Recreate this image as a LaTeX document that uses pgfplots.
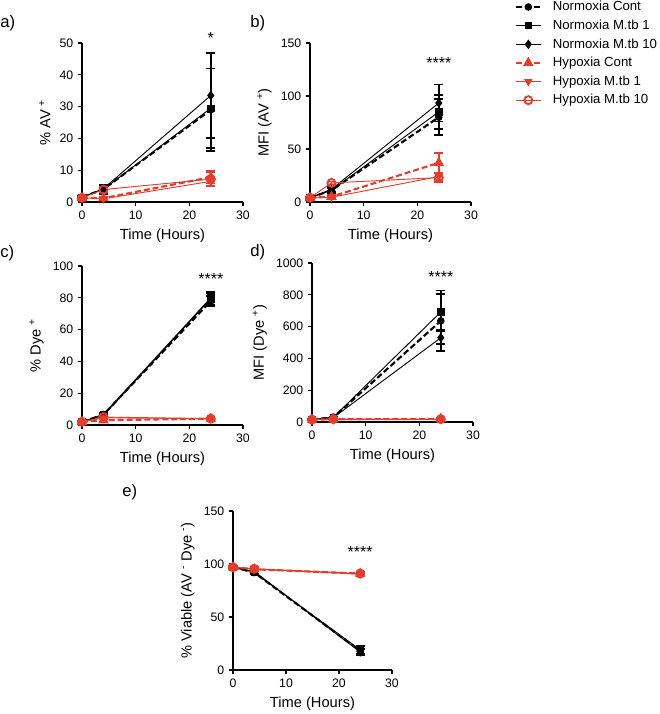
\documentclass[border=0pt]{standalone}
\usepackage{fontspec}
\setmainfont{Liberation Sans}
\usepackage{pgfplots}
\pgfplotsset{compat=1.18}
\definecolor{myred}{RGB}{226,61,45}
\pgfplotsset{
  nc/.style={black, line width=1.6pt, dash pattern=on 4.5pt off 2.2pt, mark=*, mark size=2pt, mark options={solid}},
  n1/.style={black, line width=0.7pt, mark=square*, mark size=2.4pt, mark options={solid}},
  n10/.style={black, line width=0.7pt, mark=diamond*, mark size=3pt, mark options={solid}},
  hc/.style={myred, line width=1.6pt, dash pattern=on 4.5pt off 2.2pt, mark=triangle*, mark size=3pt, mark options={solid}},
  h1/.style={myred, line width=0.7pt, mark=triangle*, mark size=3pt, mark options={solid, rotate=180}},
  h10/.style={myred, line width=0.7pt, mark=o, mark size=3pt, mark options={solid, line width=1.4pt}},
  eb/.style={error bars/.cd, y dir=both, y explicit, error bar style={line width=1.2pt, solid}, error mark options={rotate=90, mark size=3.5pt, line width=1.2pt, solid}},
  myaxis/.style={scale only axis, width=120.75pt, height=119.25pt, anchor=south west,
    axis lines=left, axis line style={-, line width=0.8pt},
    xmin=0, xmax=30, xtick={0,10,20,30}, ymin=0,
    tick align=outside, major tick length=3pt, tick style={line width=0.8pt, black},
    clip=false, scaled y ticks=false,
    /pgf/number format/1000 sep={},
    /pgf/number format/assume math mode=true,
    ticklabel style={font=\fontsize{9.2}{10}\selectfont},
    label style={font=\fontsize{11}{12}\selectfont},
    xlabel={Time (Hours)}},
}
\begin{document}
\begin{tikzpicture}
\path[use as bounding box] (0pt,0pt) rectangle (495pt,-535.5pt);
% panel a
\begin{axis}[myaxis, at={(61.5pt,-151.5pt)}, ymax=50, ytick={0,10,20,30,40,50}, ylabel={\% AV \textsuperscript{+}}]
\addplot[nc, eb] coordinates {(0,1.5) +- (0,0.3) (4,4.0) +- (0,1.0) (24,29) +- (0,13)};
\addplot[n1, eb] coordinates {(0,1.5) +- (0,0.3) (4,4.0) +- (0,1.4) (24,29.5) +- (0,12.5)};
\addplot[n10, eb] coordinates {(0,1.5) +- (0,0.3) (4,4.2) +- (0,1.0) (24,33.5) +- (0,13.3)};
\addplot[hc, eb] coordinates {(0,1.3) +- (0,0.3) (4,1.2) +- (0,0.5) (24,7.8) +- (0,2.0)};
\addplot[h1, eb] coordinates {(0,1.3) +- (0,0.3) (4,1.0) +- (0,0.4) (24,6.5) +- (0,1.4)};
\addplot[h10, eb] coordinates {(0,1.3) +- (0,0.3) (4,3.9) +- (0,0.8) (24,7.2) +- (0,2.2)};
\node[font=\fontsize{12}{12}\selectfont] at (axis cs:24,51.5) {*};
\end{axis}
% panel b
\begin{axis}[myaxis, at={(232.5pt,-151.5pt)}, ymax=150, ytick={0,50,100,150}, ylabel={MFI (AV \textsuperscript{+})},
  legend cell align=left,
  legend style={at={(1.27,1.277)}, anchor=north west, draw=none, fill=none, inner sep=0pt, row sep=2.3pt,
    font=\fontsize{9.9}{11}\selectfont, nodes={inner sep=1.5pt}},
  legend image code/.code={\draw[mark repeat=2, mark phase=2, #1] plot coordinates {(0pt,0pt) (9.4pt,0pt) (18.8pt,0pt)}; \path (25.5pt,0pt);}]
\addplot[nc, eb] coordinates {(0,4) +- (0,1) (4,11) +- (0,2) (24,80) +- (0,17)};
\addlegendentry{Normoxia Cont}
\addplot[n1, eb] coordinates {(0,4) +- (0,1) (4,11) +- (0,3) (24,85) +- (0,16)};
\addlegendentry{Normoxia M.tb 1}
\addplot[n10, eb] coordinates {(0,4) +- (0,1) (4,12) +- (0,2) (24,93.4) +- (0,17.6)};
\addlegendentry{Normoxia M.tb 10}
\addplot[hc, eb] coordinates {(0,4) +- (0,1) (4,5) +- (0,1.5) (24,37) +- (0,9)};
\addlegendentry{Hypoxia Cont}
\addplot[h1, eb] coordinates {(0,4) +- (0,1) (4,4.5) +- (0,1) (24,24) +- (0,3)};
\addlegendentry{Hypoxia M.tb 1}
\addplot[h10, eb] coordinates {(0,4) +- (0,1) (4,18) +- (0,1.5) (24,23) +- (0,4)};
\addlegendentry{Hypoxia M.tb 10}
\node[font=\fontsize{12}{12}\selectfont] at (axis cs:24,131) {****};
\end{axis}
% panel c
\begin{axis}[myaxis, at={(61.5pt,-318.75pt)}, ymax=100, ytick={0,20,40,60,80,100}, ylabel={\% Dye \textsuperscript{+}}]
\addplot[nc, eb] coordinates {(0,2) +- (0,0.5) (4,6.5) +- (0,1) (24,78) +- (0,3)};
\addplot[n1, eb] coordinates {(0,2) +- (0,0.5) (4,6.7) +- (0,1) (24,80) +- (0,3)};
\addplot[n10, eb] coordinates {(0,2) +- (0,0.5) (4,6) +- (0,1) (24,79.5) +- (0,4)};
\addplot[hc, eb] coordinates {(0,2) +- (0,0.5) (4,3) +- (0,1) (24,4) +- (0,0.5)};
\addplot[h1, eb] coordinates {(0,2) +- (0,0.5) (4,4.5) +- (0,1) (24,4) +- (0,0.5)};
\addplot[h10, eb] coordinates {(0,2) +- (0,0.5) (4,5) +- (0,1) (24,4) +- (0,0.5)};
\node[font=\fontsize{12}{12}\selectfont] at (axis cs:24,92) {****};
\end{axis}
% panel d
\begin{axis}[myaxis, at={(234pt,-316.5pt)}, ymax=1000, ytick={0,200,400,600,800,1000}, ylabel={MFI (Dye \textsuperscript{+})}]
\addplot[nc, eb] coordinates {(0,15) +- (0,3) (4,30) +- (0,5) (24,636) +- (0,190)};
\addplot[n1, eb] coordinates {(0,15) +- (0,3) (4,30) +- (0,5) (24,692) +- (0,114)};
\addplot[n10, eb] coordinates {(0,15) +- (0,3) (4,28) +- (0,5) (24,530) +- (0,40)};
\addplot[hc, eb] coordinates {(0,15) +- (0,3) (4,17) +- (0,3) (24,20) +- (0,5)};
\addplot[h1, eb] coordinates {(0,15) +- (0,3) (4,15) +- (0,3) (24,15) +- (0,3)};
\addplot[h10, eb] coordinates {(0,15) +- (0,3) (4,18) +- (0,3) (24,18) +- (0,3)};
\node[font=\fontsize{12}{12}\selectfont] at (axis cs:24,910) {****};
\end{axis}
% panel e
\begin{axis}[myaxis, at={(174.75pt,-502.5pt)}, width=119.25pt, ymax=150, ytick={0,50,100,150}, ylabel={\% Viable (AV \textsuperscript{-} Dye \textsuperscript{-})}]
\addplot[nc, eb] coordinates {(0,97) +- (0,1) (4,92) +- (0,2) (24,18) +- (0,4)};
\addplot[n1, eb] coordinates {(0,97) +- (0,1) (4,92) +- (0,2) (24,19) +- (0,4)};
\addplot[n10, eb] coordinates {(0,97) +- (0,1) (4,93) +- (0,2) (24,17) +- (0,3)};
\addplot[hc, eb] coordinates {(0,97) +- (0,1) (4,95) +- (0,2) (24,91) +- (0,2)};
\addplot[h1, eb] coordinates {(0,97) +- (0,1) (4,95) +- (0,1.5) (24,90.5) +- (0,2)};
\addplot[h10, eb] coordinates {(0,97) +- (0,1) (4,95.5) +- (0,1.5) (24,91) +- (0,2)};
\node[font=\fontsize{12}{12}\selectfont] at (axis cs:24,111) {****};
\end{axis}
% panel labels
\node[anchor=west, inner sep=0pt, font=\fontsize{12.5}{14}\selectfont] at (0pt,-17.25pt) {a)};
\node[anchor=west, inner sep=0pt, font=\fontsize{12.5}{14}\selectfont] at (187.5pt,-17.25pt) {b)};
\node[anchor=west, inner sep=0pt, font=\fontsize{12.5}{14}\selectfont] at (0pt,-189.75pt) {c)};
\node[anchor=west, inner sep=0pt, font=\fontsize{12.5}{14}\selectfont] at (187.5pt,-189pt) {d)};
\node[anchor=west, inner sep=0pt, font=\fontsize{12.5}{14}\selectfont] at (91.5pt,-369pt) {e)};
\end{tikzpicture}
\end{document}
